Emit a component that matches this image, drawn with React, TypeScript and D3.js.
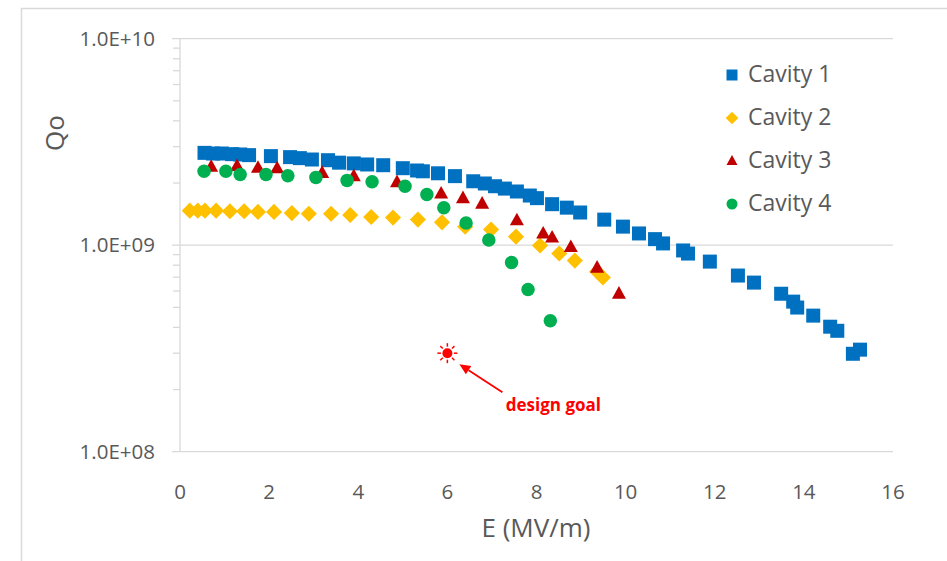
import React from "react";
import * as d3 from "d3";

// ---- data (E in MV/m, Q0 in units of 1e9) ----
const cavity1E = [0.55, 0.74, 0.94, 1.17, 1.35, 1.55, 2.04, 2.47, 2.69, 2.96, 3.32, 3.57, 3.9, 4.2, 4.56, 5.0, 5.32, 5.45, 5.79, 6.17, 6.58, 6.84, 7.07, 7.29, 7.56, 7.85, 8.01, 8.35, 8.68, 8.98, 9.52, 9.94, 10.3, 10.66, 10.84, 11.29, 11.4, 11.89, 12.52, 12.88, 13.49, 13.76, 13.85, 14.21, 14.59, 14.75, 15.1, 15.26];
const cavity1Q = [2.8, 2.78, 2.78, 2.76, 2.75, 2.73, 2.7, 2.67, 2.64, 2.6, 2.58, 2.51, 2.49, 2.46, 2.44, 2.36, 2.3, 2.28, 2.23, 2.16, 2.04, 1.99, 1.93, 1.88, 1.82, 1.74, 1.69, 1.58, 1.52, 1.44, 1.33, 1.23, 1.14, 1.07, 1.02, 0.943, 0.911, 0.833, 0.713, 0.659, 0.582, 0.533, 0.499, 0.456, 0.403, 0.385, 0.298, 0.312];

const cavity2E = [0.22, 0.4, 0.56, 0.81, 1.12, 1.44, 1.75, 2.11, 2.51, 2.89, 3.39, 3.82, 4.29, 4.78, 5.34, 5.88, 6.4, 6.98, 7.54, 8.08, 8.51, 8.86, 9.36, 9.49];
const cavity2Q = [1.47, 1.47, 1.47, 1.47, 1.46, 1.46, 1.45, 1.45, 1.43, 1.42, 1.42, 1.4, 1.37, 1.36, 1.33, 1.29, 1.23, 1.19, 1.1, 0.997, 0.911, 0.842, 0.745, 0.697];

const cavity3E = [0.7, 1.28, 1.75, 2.18, 3.19, 3.9, 4.87, 5.86, 6.35, 6.78, 7.56, 8.15, 8.35, 8.77, 9.36, 9.85];
const cavity3Q = [2.4, 2.42, 2.37, 2.36, 2.24, 2.16, 2.02, 1.78, 1.69, 1.59, 1.32, 1.14, 1.09, 0.98, 0.779, 0.583];

const cavity4E = [0.54, 1.03, 1.35, 1.93, 2.42, 3.05, 3.75, 4.31, 5.05, 5.54, 5.92, 6.42, 6.93, 7.44, 7.81, 8.31];
const cavity4Q = [2.28, 2.28, 2.2, 2.2, 2.17, 2.13, 2.06, 2.03, 1.93, 1.76, 1.52, 1.28, 1.06, 0.824, 0.61, 0.431];

const designGoalE = 6.0;
const designGoalQ = 0.3; // x1e9

const seriesNames = ["Cavity 1", "Cavity 2", "Cavity 3", "Cavity 4"];
const xTicks = [0, 2, 4, 6, 8, 10, 12, 14, 16];
const yTicks = [1e8, 1e9, 1e10];
const yTickLabels = ["1.0E+08", "1.0E+09", "1.0E+10"];

// ---- styling ----
const COLORS = ["#0070C0", "#FFC000", "#C00000", "#00B050"];
const SHAPES = ["square", "diamond", "triangle", "circle"];
const TEXT = "#595959";
const GRID = "#D9D9D9";
const FONT = "'Open Sans', 'DejaVu Sans', sans-serif";

function markerPath(shape: string, cx: number, cy: number, s: number): string {
  const p = d3.path();
  const h = s / 2;
  if (shape === "square") {
    p.rect(cx - h, cy - h, s, s);
  } else if (shape === "diamond") {
    const r = h * 1.15;
    p.moveTo(cx, cy - r);
    p.lineTo(cx + r, cy);
    p.lineTo(cx, cy + r);
    p.lineTo(cx - r, cy);
    p.closePath();
  } else if (shape === "triangle") {
    const th = s * 0.9;
    p.moveTo(cx, cy - th * 0.6);
    p.lineTo(cx + h, cy + th * 0.4);
    p.lineTo(cx - h, cy + th * 0.4);
    p.closePath();
  } else {
    p.arc(cx, cy, h, 0, Math.PI * 2);
  }
  return p.toString();
}

export default function App() {
  const W = 947;
  const H = 561;
  const x = d3.scaleLinear().domain([0, 16]).range([180, 893]);
  const y = d3.scaleLog().domain([1e8, 1e10]).range([451.7, 38.7]);

  const series = [
    { e: cavity1E, q: cavity1Q },
    { e: cavity2E, q: cavity2Q },
    { e: cavity3E, q: cavity3Q },
    { e: cavity4E, q: cavity4Q },
  ];
  const markerSize = [14, 14, 14, 13.5];

  const minor: number[] = [];
  for (const dec of [1e8, 1e9]) for (let k = 2; k <= 9; k++) minor.push(k * dec);

  const gx = x(designGoalE);
  const gy = y(designGoalQ * 1e9);
  const rays = d3.range(8).map((i) => (i * Math.PI) / 4);

  const arrowTail = [gx + 55, gy + 39];
  const arrowTip = [gx + 12, gy + 11];
  const ang = Math.atan2(arrowTip[1] - arrowTail[1], arrowTip[0] - arrowTail[0]);
  const ah = 11;
  const aw = 5;
  const headBase = [arrowTip[0] - ah * Math.cos(ang), arrowTip[1] - ah * Math.sin(ang)];
  const headPath = d3.path();
  headPath.moveTo(arrowTip[0], arrowTip[1]);
  headPath.lineTo(headBase[0] + aw * Math.sin(ang), headBase[1] - aw * Math.cos(ang));
  headPath.lineTo(headBase[0] - aw * Math.sin(ang), headBase[1] + aw * Math.cos(ang));
  headPath.closePath();

  const legendX = 732;
  const legendY = [74, 117, 160, 203];

  return (
    <svg
      width={W}
      height={H}
      style={{ position: "absolute", left: 0, top: 0, background: "#fff" }}
      fontFamily={FONT}
    >
      <rect x={0} y={0} width={W} height={H} fill="#fff" />
      {/* outer chart frame */}
      <rect x={21.5} y={8.5} width={W + 20} height={H + 20} fill="none" stroke={GRID} strokeWidth={1.5} />

      {/* gridlines */}
      {yTicks.map((t) => (
        <line key={"g" + t} x1={172} x2={x(16)} y1={y(t)} y2={y(t)} stroke={GRID} strokeWidth={1.3} />
      ))}
      {/* y axis line */}
      <line x1={x(0)} x2={x(0)} y1={y(1e10)} y2={y(1e8)} stroke={GRID} strokeWidth={1.3} />
      {minor.map((t) => (
        <line key={"m" + t} x1={173} x2={x(0)} y1={y(t)} y2={y(t)} stroke={GRID} strokeWidth={1.3} />
      ))}

      {/* y tick labels */}
      {yTicks.map((t, i) => (
        <text key={"yl" + t} x={155} y={y(t)} dy="0.35em" textAnchor="end" fontSize={20.5} fill={TEXT}>
          {yTickLabels[i]}
        </text>
      ))}
      {/* x tick labels */}
      {xTicks.map((t) => (
        <text key={"xl" + t} x={x(t)} y={492} dy="0.35em" textAnchor="middle" fontSize={20.5} fill={TEXT}>
          {t}
        </text>
      ))}

      {/* axis titles */}
      <text x={536} y={528} dy="0.35em" textAnchor="middle" fontSize={26} fill={TEXT}>
        E (MV/m)
      </text>
      <text transform={`translate(55,133) rotate(-90)`} dy="0.35em" textAnchor="middle" fontSize={26} fill={TEXT}>
        Qo
      </text>

      {/* data markers */}
      {series.map((s, si) => (
        <g key={"s" + si} fill={COLORS[si]}>
          {s.e.map((e, i) => (
            <path key={i} d={markerPath(SHAPES[si], x(e), y(s.q[i] * 1e9), markerSize[si])} />
          ))}
        </g>
      ))}

      {/* design goal */}
      <g fill="#FF0000" stroke="#FF0000">
        <circle cx={gx} cy={gy} r={5} stroke="none" />
        {rays.map((a, i) => (
          <line
            key={i}
            x1={gx + 6.5 * Math.cos(a)}
            y1={gy + 6.5 * Math.sin(a)}
            x2={gx + 10 * Math.cos(a)}
            y2={gy + 10 * Math.sin(a)}
            strokeWidth={1.5}
          />
        ))}
        <line x1={arrowTail[0]} y1={arrowTail[1]} x2={headBase[0]} y2={headBase[1]} strokeWidth={1.8} />
        <path d={headPath.toString()} stroke="none" />
      </g>
      <text x={gx + 106} y={gy + 58} textAnchor="middle" fontSize={17} fontWeight="bold" fill="#FF0000">
        design goal
      </text>

      {/* legend */}
      {seriesNames.map((n, i) => (
        <g key={"lg" + i}>
          <path d={markerPath(SHAPES[i], legendX, legendY[i] + 1, 11)} fill={COLORS[i]} />
          <text x={748} y={legendY[i]} dy="0.35em" fontSize={23} fill={TEXT}>
            {n}
          </text>
        </g>
      ))}
    </svg>
  );
}
